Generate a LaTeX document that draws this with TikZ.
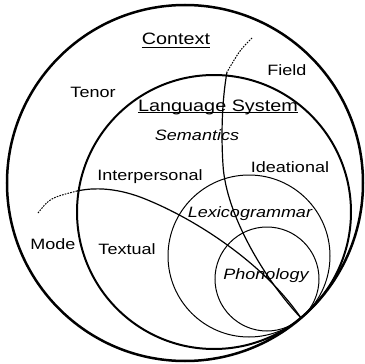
\documentclass[tikz,border=0pt]{standalone}
\usepackage{fontspec}
\setmainfont{Liberation Sans}[FakeStretch=1.2]

\begin{document}
\begin{tikzpicture}[
    x=1pt, y=-1pt,
    ring/.style={draw, line width=#1},
    ring/.default=1pt,
    txt/.style={anchor=base, inner sep=0pt, font=\fontsize{15}{18}\selectfont},
    sem/.style={txt, font=\fontsize{15}{18}\selectfont\itshape},
    head/.style={txt, font=\fontsize{16.5}{20}\selectfont},
    headrule/.style={line width=1.4pt},
    divider/.style={line width=1.2pt},
    faint/.style={line width=1pt, dash pattern=on 1.6pt off 1.2pt}
]
\useasboundingbox (0,0) rectangle (365,364);

% Nested strata
\draw[ring=2.5pt] (185,183) circle[radius=178];
\draw[ring=2pt] (214,212) circle[radius=137];
\draw[ring] (249,256) circle[radius=81];
\draw[ring] (267,279) circle[radius=52];

% Ends of the dividing lines
\coordinate (field0) at (252,38);
\coordinate (field1) at (227,72);
\coordinate (mode0) at (38,213);
\coordinate (mode1) at (77,191);
\coordinate (touch) at (301,318);

% Dividing lines
\draw[faint] (field0) .. controls (240,50) .. (field1);
\draw[divider] (field1) .. controls (222,100) and (221,135) .. (223,165)
    .. controls (226,215) and (265,280) .. (touch);
\draw[faint] (mode0) .. controls (50,198) .. (mode1);
\draw[divider] (mode1) .. controls (100,186) and (125,190) .. (150,201)
    .. controls (200,222) and (265,265) .. (touch);

% Titles
\node[head] (context) at (176,45) {Context};
\node[head] (langsys) at (218,111) {Language System};
\draw[headrule] ([yshift=-2.5pt]context.base west) -- ([yshift=-2.5pt]context.base east);
\draw[headrule] ([yshift=-1.5pt]langsys.base west) -- ([yshift=-1.5pt]langsys.base east);

% Context variables
\node[txt] (tenor) at (93,97) {Tenor};
\node[txt] (field) at (287,75) {Field};
\node[txt] (mode) at (53,249) {Mode};

% Metafunctions
\node[txt] (interp) at (150,180) {Interpersonal};
\node[txt] (idea) at (290,172) {Ideational};
\node[txt] (textual) at (127,254) {Textual};

% Strata
\node[sem] (semantics) at (197,140) {Semantics};
\node[sem] (lexgram) at (250,217) {Lexicogrammar};
\node[sem] (phono) at (266,279) {Phonology};
\end{tikzpicture}
\end{document}
